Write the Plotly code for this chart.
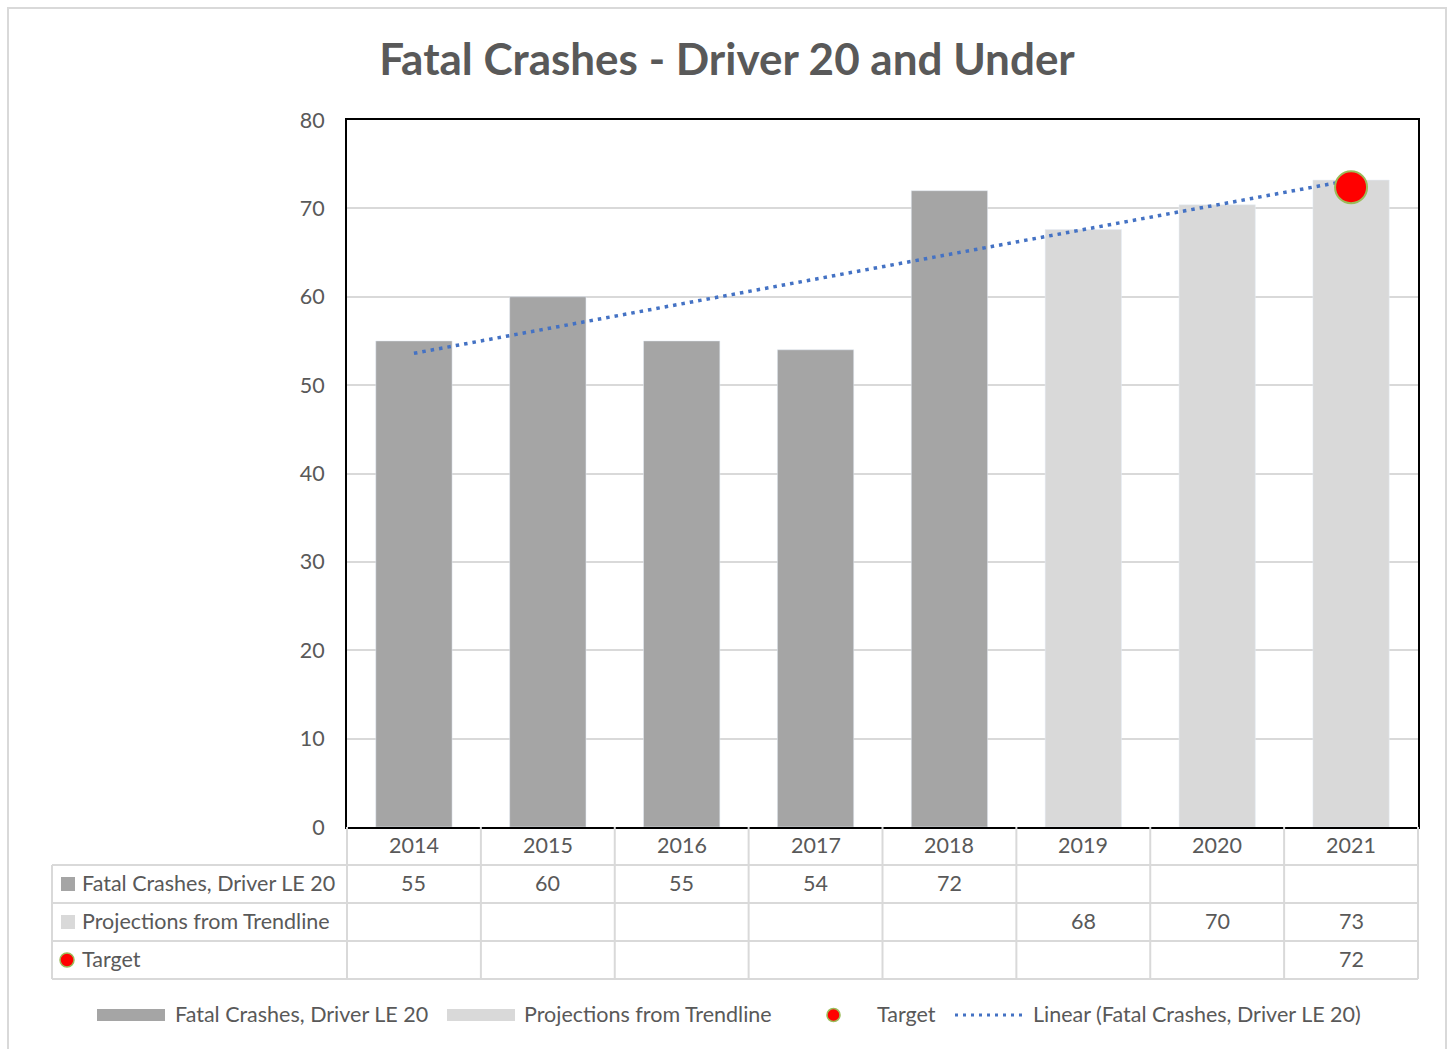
import numpy as np
import plotly.graph_objects as go

# ---------------- data ----------------
years = ["2014", "2015", "2016", "2017", "2018", "2019", "2020", "2021"]
obs_years = ["2014", "2015", "2016", "2017", "2018"]
fatal = [55, 60, 55, 54, 72]
proj_years = ["2019", "2020", "2021"]
proj = [67.6, 70.4, 73.2]
target_years = ["2021"]
target = [72.4]

name_fatal = "Fatal Crashes, Driver LE 20"
name_proj = "Projections from Trendline"
name_target = "Target"
name_trend = "Linear (Fatal Crashes, Driver LE 20)"
title_text = "Fatal Crashes - Driver 20 and Under"

# ---------------- style ----------------
C_DARK = "#a5a5a5"
C_LIGHT = "#d9d9d9"
C_GRID = "#d9d9d9"
C_TEXT = "#595959"
C_TREND = "#4472c4"
C_RED = "#ff0000"
C_RING = "#9bbb59"
FONT = "Lato"
FS = 21.5

W, H = 1450, 1049
L, R, T, B = 347, 1418, 120, 827
TXT_DY = -1.5  # small vertical nudge for text centering


def px(x):
    return (x - L) / (R - L)


def py(y):
    return (B - y) / (B - T)


def pos(labels):
    return [years.index(v) for v in labels]


# linear trendline over observed data (as the chart's trendline)
coef = np.polyfit(pos(obs_years), fatal, 1)
trend = np.polyval(coef, np.arange(len(years)))

fig = go.Figure()
fig.add_trace(go.Bar(x=pos(obs_years), y=fatal, name=name_fatal, marker_color=C_DARK))
fig.add_trace(go.Bar(x=pos(proj_years), y=proj, name=name_proj, marker_color=C_LIGHT))
fig.add_trace(go.Scatter(x=list(range(len(years))), y=trend, mode="lines", name=name_trend,
                         line=dict(color=C_TREND, width=3.5, dash="3.5px,5px")))
fig.add_trace(go.Scatter(x=pos(target_years), y=target, mode="markers", name=name_target,
                         marker=dict(size=32, color=C_RED, line=dict(color=C_RING, width=2))))

shapes = []
annotations = []

# outer chart border
shapes.append(dict(type="rect", xref="paper", yref="paper", x0=px(8), x1=px(1446),
                   y0=py(1060), y1=py(8), line=dict(color=C_GRID, width=2), layer="below"))

# ---------------- data table ----------------
ncol = len(years)
cw = (R - L) / ncol
row_y = [827, 865, 903, 941, 979]
line_style = dict(color=C_GRID, width=2)
for yy in row_y[1:]:
    shapes.append(dict(type="line", xref="paper", yref="paper", x0=px(52), x1=px(R),
                       y0=py(yy), y1=py(yy), line=line_style))
shapes.append(dict(type="line", xref="paper", yref="paper", x0=px(52), x1=px(52),
                   y0=py(865), y1=py(979), line=line_style))
for k in range(ncol + 1):
    xx = L + k * cw
    shapes.append(dict(type="line", xref="paper", yref="paper", x0=px(xx), x1=px(xx),
                       y0=py(827), y1=py(979), line=line_style))

tfont = dict(family=FONT, size=FS, color=C_TEXT)
# header years
for i, yr in enumerate(years):
    annotations.append(dict(x=i, xref="x", y=py(846 + TXT_DY), yref="paper", text=yr,
                            showarrow=False, font=tfont, xanchor="center", yanchor="middle"))

rows = [
    (name_fatal, obs_years, fatal, "sq", C_DARK),
    (name_proj, proj_years, proj, "sq", C_LIGHT),
    (name_target, target_years, target, "dot", C_RED),
]
for r, (nm, xs, vals, key, col) in enumerate(rows):
    cy = (row_y[r + 1] + row_y[r + 2]) / 2
    annotations.append(dict(x=px(80), xref="paper", y=py(cy + TXT_DY), yref="paper", text=nm,
                            showarrow=False, font=tfont, xanchor="left", yanchor="middle"))
    if key == "sq":
        shapes.append(dict(type="rect", xref="paper", yref="paper", x0=px(61), x1=px(75),
                           y0=py(cy + 7), y1=py(cy - 7), fillcolor=col, line=dict(width=0)))
    else:
        shapes.append(dict(type="circle", xref="paper", yref="paper", x0=px(60), x1=px(74),
                           y0=py(cy + 7), y1=py(cy - 7), fillcolor=col,
                           line=dict(color=C_RING, width=1.5)))
    for xv, v in zip(pos(xs), vals):
        annotations.append(dict(x=xv, xref="x", y=py(cy + TXT_DY), yref="paper",
                                text=f"{v:.0f}", showarrow=False, font=tfont,
                                xanchor="center", yanchor="middle"))

# ---------------- legend (custom, Excel style) ----------------
ly = 1015
lty = ly + TXT_DY
shapes.append(dict(type="rect", xref="paper", yref="paper", x0=px(97), x1=px(165),
                   y0=py(ly + 6), y1=py(ly - 6), fillcolor=C_DARK, line=dict(width=0)))
annotations.append(dict(x=px(173), xref="paper", y=py(lty), yref="paper", text=name_fatal,
                        showarrow=False, font=tfont, xanchor="left", yanchor="middle"))
shapes.append(dict(type="rect", xref="paper", yref="paper", x0=px(447), x1=px(515),
                   y0=py(ly + 6), y1=py(ly - 6), fillcolor=C_LIGHT, line=dict(width=0)))
annotations.append(dict(x=px(522), xref="paper", y=py(lty), yref="paper", text=name_proj,
                        showarrow=False, font=tfont, xanchor="left", yanchor="middle"))
shapes.append(dict(type="circle", xref="paper", yref="paper", x0=px(827), x1=px(840),
                   y0=py(ly + 6.5), y1=py(ly - 6.5), fillcolor=C_RED,
                   line=dict(color=C_RING, width=1.5)))
annotations.append(dict(x=px(875), xref="paper", y=py(lty), yref="paper", text=name_target,
                        showarrow=False, font=tfont, xanchor="left", yanchor="middle"))
shapes.append(dict(type="line", xref="paper", yref="paper", x0=px(955), x1=px(1023),
                   y0=py(ly), y1=py(ly), line=dict(color=C_TREND, width=3, dash="3px,5px")))
annotations.append(dict(x=px(1031), xref="paper", y=py(lty), yref="paper", text=name_trend,
                        showarrow=False, font=tfont, xanchor="left", yanchor="middle"))

fig.update_layout(
    width=W, height=H,
    margin=dict(l=L, r=W - R, t=T, b=H - B, autoexpand=False),
    paper_bgcolor="white", plot_bgcolor="white",
    showlegend=False,
    barmode="overlay", bargap=0.43,
    title=dict(text=title_text, x=727 / W, xref="container", xanchor="center",
               y=1 - 60 / H, yref="container", yanchor="middle",
               font=dict(family=FONT, size=44, color=C_TEXT, weight="bold")),
    font=dict(family=FONT, size=FS, color=C_TEXT),
    shapes=shapes, annotations=annotations,
)
fig.update_xaxes(range=[-0.5, len(years) - 0.5], showticklabels=False, showline=True,
                 mirror=True, linecolor="black", linewidth=2, showgrid=False, ticks="",
                 zeroline=False)
fig.update_yaxes(range=[0, 80], dtick=10, showgrid=True, gridcolor=C_GRID, gridwidth=2,
                 showline=True, mirror=True, linecolor="black", linewidth=2,
                 ticks="", ticklabelstandoff=16, zeroline=False,
                 tickfont=dict(family=FONT, size=FS, color=C_TEXT))

fig.write_html("out.html", config={"displayModeBar": False},
               post_script="document.body.style.margin='0';")
